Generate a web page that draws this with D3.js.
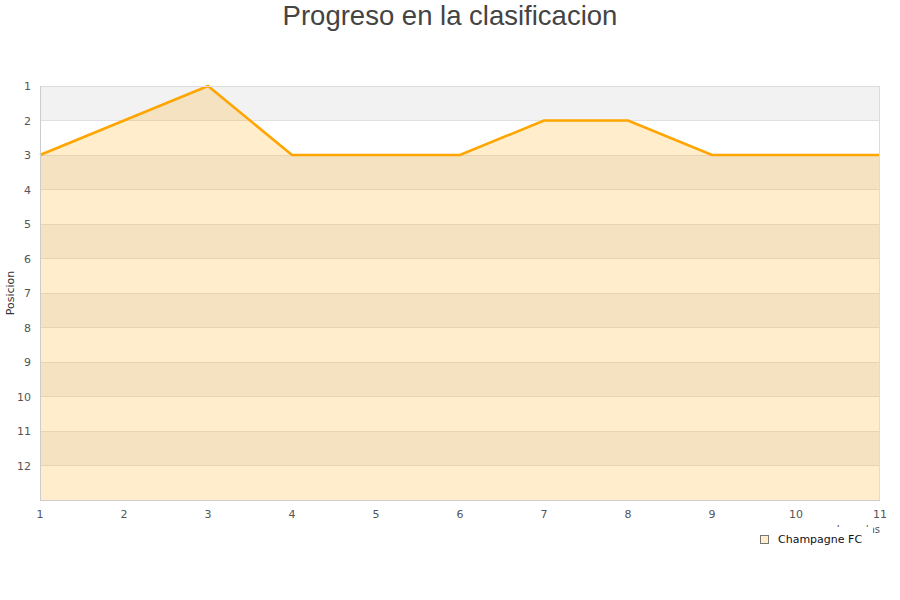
<!DOCTYPE html>
<html><head><meta charset="utf-8">
<script src="https://cdn.jsdelivr.net/npm/d3@7"></script>
<style>body{margin:0;background:#fff}svg{display:block}</style>
</head><body>
<svg id="c" width="900" height="600"></svg>
<script>
const title = "Progreso en la clasificacion";
const yLabel = "Posicion";
const xLabel = "Jornadas";
const seriesName = "Champagne FC";
const jornadas = [1,2,3,4,5,6,7,8,9,10,11];
const posiciones = [3,2,1,3,3,3,2,2,3,3,3];
const yTicks = [1,2,3,4,5,6,7,8,9,10,11,12];

const svg = d3.select("#c");
const L=40,R=880,T=86,B=500;
const x = d3.scaleLinear().domain([1,11]).range([L,R]);
const y = d3.scaleLinear().domain([1,13]).range([T,B]);

// bands
const bands = d3.range(1,13);
svg.selectAll("rect.band").data(bands).enter().append("rect")
  .attr("x",L).attr("width",R-L)
  .attr("y",d=>y(d)).attr("height",d=>y(d+1)-y(d))
  .attr("fill",d=>d%2===1?"#f2f2f2":"#ffffff");
// grid
svg.selectAll("line.grid").data(yTicks.slice(1)).enter().append("line")
  .attr("x1",L).attr("x2",R).attr("y1",d=>y(d)).attr("y2",d=>y(d))
  .attr("stroke","#e0e0e0").attr("stroke-width",1).attr("shape-rendering","crispEdges");

const data = jornadas.map((j,i)=>({j, p:posiciones[i]}));
svg.append("path").datum(data)
  .attr("d", d3.area().x(d=>x(d.j)).y0(B).y1(d=>y(d.p)))
  .attr("fill","rgba(255,165,0,0.2)");
svg.append("path").datum(data)
  .attr("d", d3.line().x(d=>x(d.j)).y(d=>y(d.p)))
  .attr("fill","none").attr("stroke","#ffa500").attr("stroke-width",2.6);

// frame
svg.append("rect").attr("x",L+0.5).attr("y",T+0.5).attr("width",R-L-1).attr("height",B-T)
  .attr("fill","none").attr("stroke","#dcdcdc").attr("stroke-width",1);
svg.append("line").attr("x1",L+0.5).attr("x2",L+0.5).attr("y1",T).attr("y2",B+0.5)
  .attr("stroke","#cccccc");
svg.append("line").attr("x1",L).attr("x2",R).attr("y1",B+0.5).attr("y2",B+0.5)
  .attr("stroke","#cccccc");

const font = "DejaVu Sans, sans-serif";
svg.selectAll("text.yt").data(yTicks).enter().append("text")
  .attr("x",31).attr("y",d=>y(d)+4).attr("text-anchor","end")
  .attr("font-family",font).attr("font-size",11).attr("fill","#555").text(d=>d);
svg.selectAll("text.xt").data(jornadas).enter().append("text")
  .attr("x",d=>x(d)).attr("y",518).attr("text-anchor","middle")
  .attr("font-family",font).attr("font-size",11).attr("fill","#555").text(d=>d);

svg.append("text").attr("transform","translate(14,293) rotate(-90)")
  .attr("text-anchor","middle").attr("font-family",font).attr("font-size",11).attr("fill","#333").text(yLabel);

svg.append("text").attr("x",450).attr("y",25).attr("text-anchor","middle")
  .attr("font-family","Liberation Sans Narrow, Liberation Sans, Arial, sans-serif").attr("font-size",27.5)
  .attr("fill","#444").text(title);

// x label, mostly hidden behind legend box
svg.append("text").attr("x",880).attr("y",533).attr("text-anchor","end")
  .attr("font-family",font).attr("font-size",10).attr("fill","#555").text(xLabel);
svg.append("rect").attr("x",740).attr("y",527).attr("width",133).attr("height",30).attr("fill","#fff");

// legend
svg.append("rect").attr("x",760.5).attr("y",535.5).attr("width",8).attr("height",8)
  .attr("fill","#ffedcc").attr("stroke","#777");
svg.append("text").attr("x",778).attr("y",543).attr("font-family",font).attr("font-size",11)
  .attr("fill","#111").text(seriesName);
</script>
</body></html>
